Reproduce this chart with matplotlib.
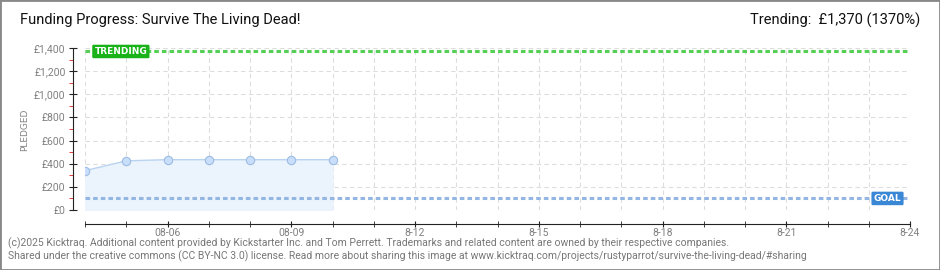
import matplotlib.pyplot as plt
from matplotlib.patches import Rectangle

plt.rcParams['font.family'] = ['Roboto', 'DejaVu Sans']

# datos (dia de agosto, importe en libras)
dias = [4, 5, 6, 7, 8, 9, 10]
pledged = [340, 425, 435, 435, 435, 435, 435]
dias_ticks = [6, 9, 12, 15, 18, 21, 24]
etiquetas_x = ["08-06", "08-09", "8-12", "8-15", "8-18", "8-21", "8-24"]
etiquetas_y = ["£0", "£200", "£400", "£600", "£800", "£1,000", "£1,200", "£1,400"]
valores_y = [0, 200, 400, 600, 800, 1000, 1200, 1400]
trending = 1370
goal = 100
dia_inicio, dia_fin = 4, 24

fig = plt.figure(figsize=(9.4, 2.7), dpi=100)
fig.patches.append(Rectangle((0, 0), 1, 1, transform=fig.transFigure,
                             fill=False, edgecolor="#888888", linewidth=2))
ax = fig.add_axes([85 / 940, 60 / 270, 825 / 940, 162 / 270])
ax.set_xlim(dia_inicio, dia_fin)
ax.set_ylim(0, 1400)

# rejilla
for d in range(dia_inicio, dia_fin + 1):
    ax.axvline(d, color="#dddddd", linestyle=(0, (4, 3)), linewidth=0.8, zorder=0)
for v in valores_y[1:]:
    ax.axhline(v, color="#dddddd", linestyle=(0, (4, 3)), linewidth=0.8, zorder=0)

# serie
ax.fill_between(dias, pledged, 0, color="#ebf3fc", zorder=1)
ax.plot(dias, pledged, color="#b9d4f1", linewidth=1, zorder=2)
ax.plot(dias, pledged, "o", markersize=6, markerfacecolor="#c8defa",
        markeredgecolor="#9dbce3", markeredgewidth=0.8, zorder=3)

# lineas de tendencia y objetivo
ax.axhline(trending, color="#55d055", linestyle=(0, (1.5, 1)), linewidth=2.2, zorder=2)
ax.axhline(goal, color="#93b6e2", linestyle=(0, (1.5, 1)), linewidth=2.2, zorder=2)
ax.text(dia_inicio + 0.23, trending, "TRENDING", color="white", fontsize=6.5,
        fontweight="bold", family="DejaVu Sans", va="center", ha="left", zorder=5,
        bbox=dict(boxstyle="round,pad=0.25,rounding_size=0.15",
                  facecolor="#19b319", edgecolor="none"))
ax.text(dia_fin - 0.88, goal, "GOAL", color="white", fontsize=6.5,
        fontweight="bold", family="DejaVu Sans", va="center", ha="left", zorder=5,
        bbox=dict(boxstyle="round,pad=0.25,rounding_size=0.15",
                  facecolor="#3a87d6", edgecolor="none"))

# ejes
for s in ["top", "right"]:
    ax.spines[s].set_visible(False)
ax.spines["left"].set_position(("outward", 9))
ax.spines["bottom"].set_position(("outward", 10))
ax.spines["left"].set_color("#222222")
ax.spines["bottom"].set_color("#222222")

ax.set_yticks(valores_y)
ax.set_yticklabels(etiquetas_y)
ax.set_yticks([100, 300, 500, 700, 900, 1100, 1300], minor=True)
ax.tick_params(axis="y", which="major", direction="inout", length=6,
               color="#222222", labelsize=7.5, labelcolor="#808080", pad=2)
ax.tick_params(axis="y", which="minor", direction="out", length=3, color="#dd2222")

ax.set_xticks(range(dia_inicio, dia_fin + 1), minor=True)
ax.set_xticks(dias_ticks)
ax.set_xticklabels(etiquetas_x)
ax.tick_params(axis="x", which="both", direction="inout", length=5,
               color="#222222", labelsize=7.5, labelcolor="#808080", pad=0.5)

# textos
fig.text(25 / 940, 1 - 130 / 270, "PLEDGED", rotation=90, fontsize=6.5,
         color="#808080", va="center", ha="center", family="DejaVu Sans")
fig.text(20 / 940, 1 - 20 / 270, "Funding Progress: Survive The Living Dead!",
         fontsize=10.5, color="#111111", va="center", ha="left")
fig.text(920 / 940, 1 - 20 / 270, "Trending:  £1,370 (1370%)",
         fontsize=10.5, color="#111111", va="center", ha="right")
fig.text(8 / 940, 1 - 243 / 270,
         "(c)2025 Kicktraq. Additional content provided by Kickstarter Inc. and Tom Perrett. "
         "Trademarks and related content are owned by their respective companies.",
         fontsize=7.5, color="#777777", va="center", ha="left")
fig.text(8 / 940, 1 - 256 / 270,
         "Shared under the creative commons (CC BY-NC 3.0) license. Read more about sharing "
         "this image at www.kicktraq.com/projects/rustyparrot/survive-the-living-dead/#sharing",
         fontsize=7.5, color="#777777", va="center", ha="left")

fig.savefig("out.png", dpi=100)
plt.close(fig)
